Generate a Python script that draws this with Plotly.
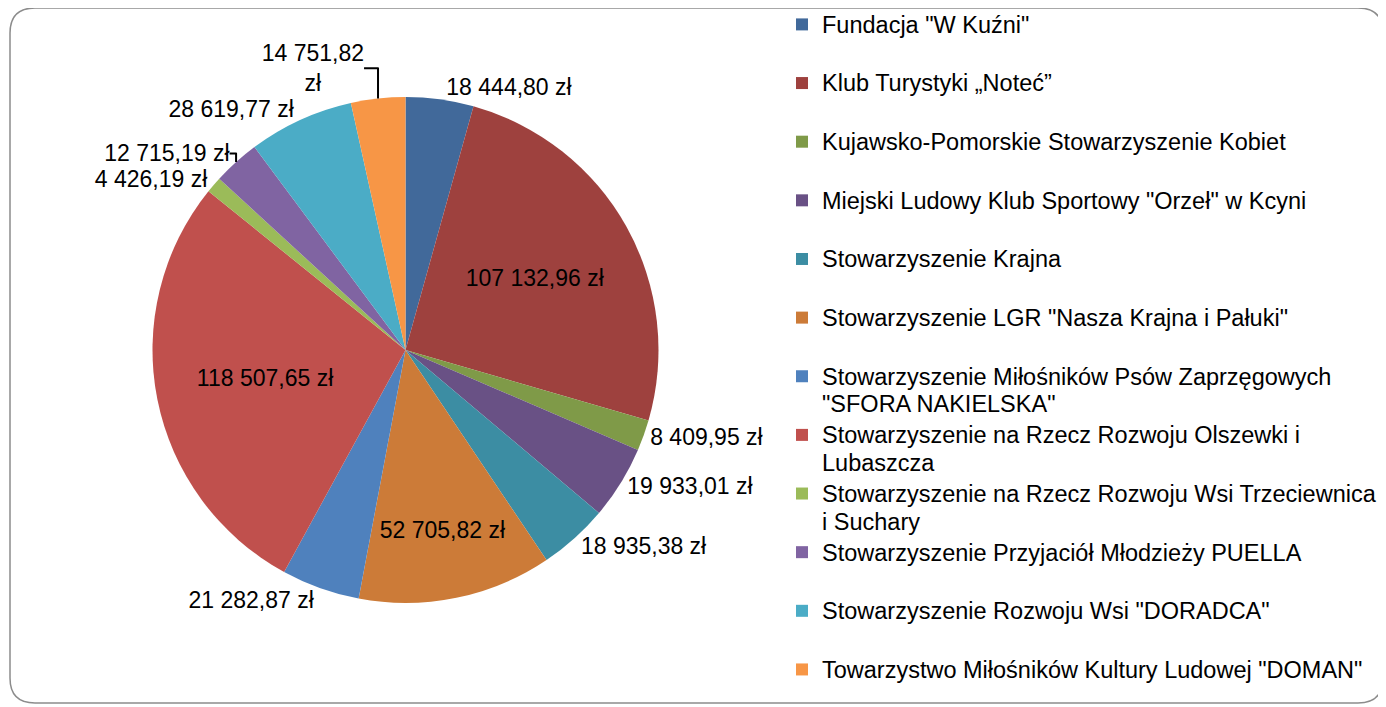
import plotly.graph_objects as go

categories = [
    'Fundacja "W Kuźni"',
    'Klub Turystyki „Noteć”',
    'Kujawsko-Pomorskie Stowarzyszenie Kobiet',
    'Miejski Ludowy Klub Sportowy "Orzeł" w Kcyni',
    'Stowarzyszenie Krajna',
    'Stowarzyszenie LGR "Nasza Krajna i Pałuki"',
    'Stowarzyszenie Miłośników Psów Zaprzęgowych<br>"SFORA NAKIELSKA"',
    'Stowarzyszenie na Rzecz Rozwoju Olszewki i<br>Lubaszcza',
    'Stowarzyszenie na Rzecz Rozwoju Wsi Trzeciewnica<br>i Suchary',
    'Stowarzyszenie Przyjaciół Młodzieży PUELLA',
    'Stowarzyszenie Rozwoju Wsi "DORADCA"',
    'Towarzystwo Miłośników Kultury Ludowej "DOMAN"',
]
values = [18444.80, 107132.96, 8409.95, 19933.01, 18935.38, 52705.82,
          21282.87, 118507.65, 4426.19, 12715.19, 28619.77, 14751.82]
colors = ["#41699A", "#9E413E", "#7F9A48", "#695185", "#3C8DA3", "#CC7B38",
          "#4F81BD", "#C0504D", "#9BBB59", "#8064A2", "#4BACC6", "#F79646"]
inside = [False, True, False, False, False, True, False, True, False, False, False, False]


def fmt(v):
    s = f"{v:,.2f}".replace(",", " ").replace(".", ",")
    return s + " zł"


FONT = "Liberation Sans, Arial, sans-serif"
LEG_TXT = 23.5   # visible legend text size
LEG_LINE = 21.4  # size that drives legend row spacing

texts = [fmt(v) for v in values]
texts[-1] = texts[-1].replace(" zł", "<br>zł")


def leg_label(c, last):
    lines = c.split("<br>")
    body = "<br>".join(f'<span style="font-size:{LEG_TXT}px">{l}</span>' for l in lines)
    if len(lines) == 1 and not last:
        body += "<br> "
    return body


legend_labels = [leg_label(c, i == len(categories) - 1) for i, c in enumerate(categories)]

# the page body has an 8px margin; work in screen pixels and shift
OFF = 8
W, H = 1386 - OFF, 707 - OFF


def px(x):
    return (x - OFF) / W


def py(y):
    return 1 - (y - OFF) / H


cx, cy, r = 405.5, 350, 253

fig = go.Figure(go.Pie(
    labels=legend_labels,
    values=values,
    text=texts,
    textinfo="text",
    hoverinfo="text+value",
    sort=False,
    direction="clockwise",
    rotation=0,
    marker=dict(colors=colors, line=dict(width=0)),
    textposition=["inside" if i else "outside" for i in inside],
    insidetextorientation="horizontal",
    textfont=dict(family=FONT, size=23, color="black"),
    domain=dict(x=[px(cx - r), px(cx + r)], y=[py(cy + r), py(cy - r)]),
))

rx, ry = 25 / W, 25 / H
x0, x1, y0, y1 = px(10), px(1383), py(703), py(8)
path = (f"M {x0+rx},{y1} L {x1-rx},{y1} Q {x1},{y1} {x1},{y1-ry} L {x1},{y0+ry} "
        f"Q {x1},{y0} {x1-rx},{y0} L {x0+rx},{y0} Q {x0},{y0} {x0},{y0+ry} "
        f"L {x0},{y1-ry} Q {x0},{y1} {x0+rx},{y1} Z")

fig.update_layout(
    width=W, height=H,
    margin=dict(l=0, r=0, t=0, b=0, autoexpand=False),
    paper_bgcolor="white",
    plot_bgcolor="white",
    showlegend=True,
    legend=dict(
        x=px(782), xanchor="left", y=1, yanchor="top",
        font=dict(family=FONT, size=LEG_LINE, color="black"),
        valign="top", bgcolor="rgba(0,0,0,0)",
    ),
    shapes=[dict(type="path", xref="paper", yref="paper", path=path,
                 line=dict(color="#8c8c8c", width=1.5))],
)

try:
    fig.update_layout(legend_maxheight=900, legend_y=py(4))
except Exception:
    pass

fig.write_html("out.html")
